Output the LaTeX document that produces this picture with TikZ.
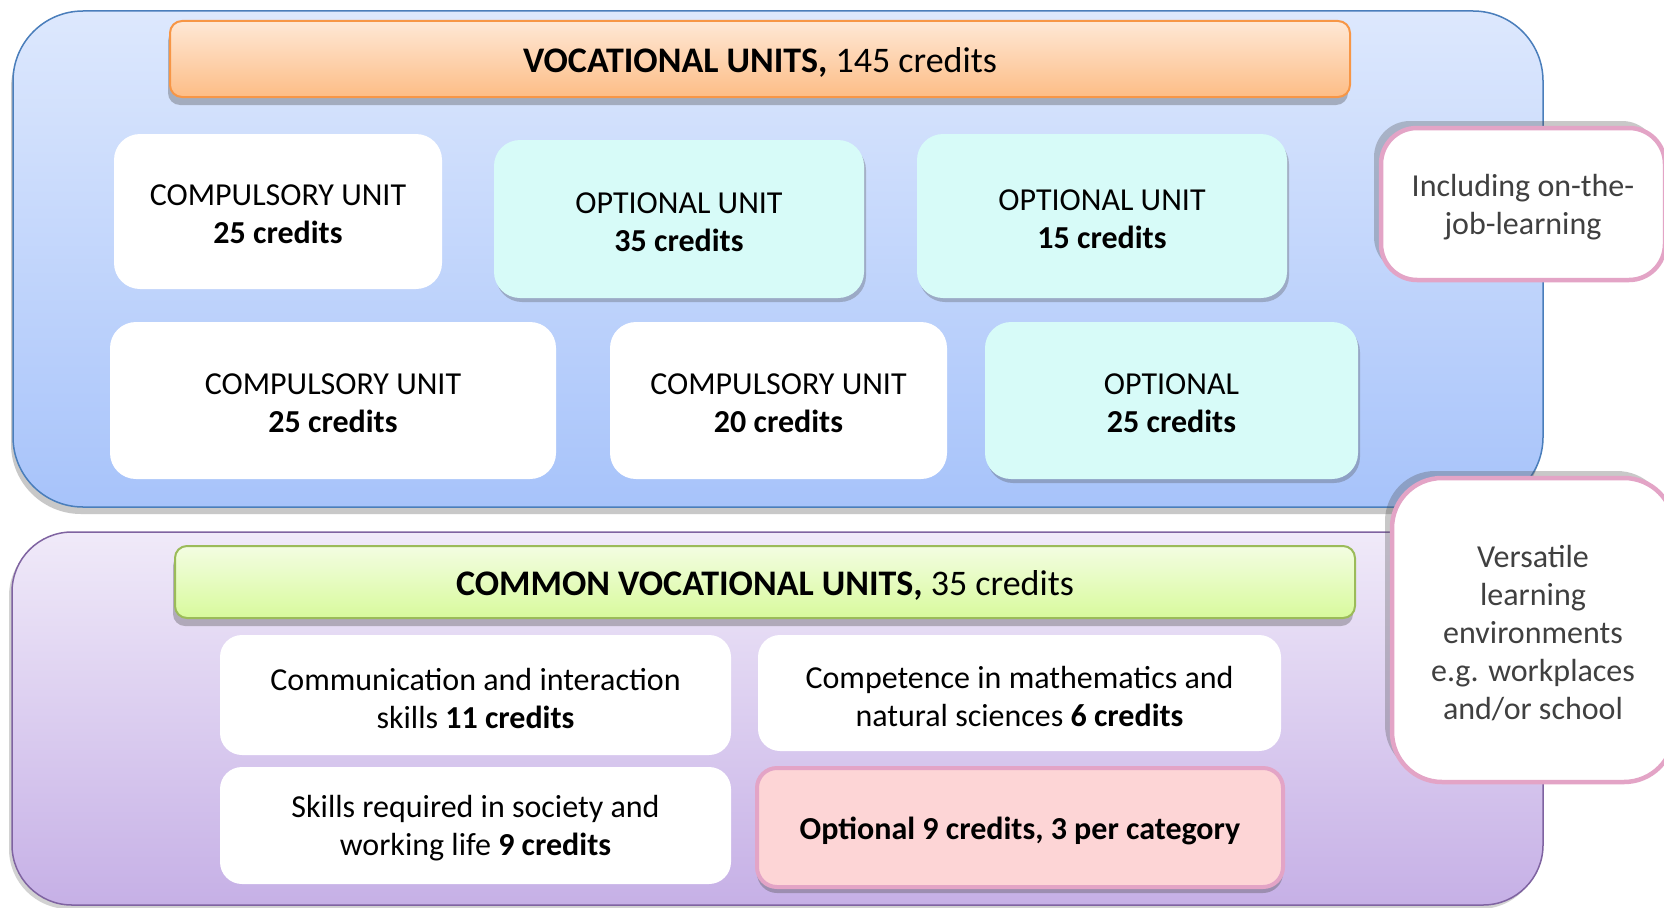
\documentclass[tikz,border=0pt]{standalone}
\usepackage{fontspec}
\setmainfont{Carlito}
\usetikzlibrary{shadows}
\definecolor{bluetop}{HTML}{DDE8FD}
\definecolor{bluebot}{HTML}{A7C3FA}
\definecolor{blueline}{HTML}{4A7EBB}
\definecolor{purtop}{HTML}{F0EAF9}
\definecolor{purbot}{HTML}{C6B0E6}
\definecolor{purline}{HTML}{7F63A1}
\definecolor{ortop}{HTML}{FEE8D6}
\definecolor{orbot}{HTML}{FDBD86}
\definecolor{orline}{HTML}{F79646}
\definecolor{grtop}{HTML}{F3FDE2}
\definecolor{grbot}{HTML}{D8FA9C}
\definecolor{grline}{HTML}{9BBB59}
\definecolor{cyanfill}{HTML}{D7FBF8}
\definecolor{pinkline}{HTML}{E3A4C6}
\definecolor{pinkfill}{HTML}{FDD5D6}
\definecolor{darktext}{HTML}{404040}
\begin{document}
\begin{tikzpicture}[x=1pt,y=-1pt,
  every node/.style={font=\fontsize{32}{38}\selectfont, align=center, inner sep=0pt},
  every label/.style={yshift=-3pt},
  bigbox/.style={draw, line width=1.5pt, rounded corners=#1},
  header/.style={draw, line width=2pt, rounded corners=12pt,
     drop shadow={shadow xshift=-2pt, shadow yshift=-8pt, opacity=0.35, fill=black!70}},
  hfont/.style={font=\fontsize{36}{40}\selectfont},
  whitebox/.style={fill=white, rounded corners=26pt},
  cyanbox/.style={fill=cyanfill, rounded corners=26pt,
     drop shadow={shadow xshift=2pt, shadow yshift=-4pt, opacity=0.3, fill=black!70}},
  sidebox/.style={fill=white, draw=pinkline, line width=4.5pt,
     drop shadow={shadow xshift=-7pt, shadow yshift=7pt, opacity=0.3, fill=black!70}},
  sidetext/.style={text=darktext},
  optbox/.style={fill=pinkfill, draw=pinkline, line width=4pt, rounded corners=20pt,
     drop shadow={shadow xshift=0pt, shadow yshift=-6pt, opacity=0.35, fill=black!70}}
]
\useasboundingbox[fill=white] (0,0) rectangle (1664,907);

% big containers
\node[bigbox=70pt, draw=blueline, top color=bluetop, bottom color=bluebot,
      minimum width=1530pt, minimum height=496pt,
      drop shadow={shadow xshift=-2pt, shadow yshift=-7pt, opacity=0.3, fill=black!70}]
      (voc) at (778,259) {};
\node[bigbox=60pt, draw=purline, top color=purtop, bottom color=purbot,
      minimum width=1531pt, minimum height=373pt,
      drop shadow={shadow xshift=-3pt, shadow yshift=-4pt, opacity=0.25, fill=black!70}]
      (com) at (777.5,718.5) {};

% headers
\node[header, draw=orline, top color=ortop, bottom color=orbot,
      minimum width=1180pt, minimum height=76pt,
      label={[hfont]center:{\textbf{VOCATIONAL UNITS,} 145 credits}}]
      (vochead) at (760,59) {};
\node[header, draw=grline, top color=grtop, bottom color=grbot,
      minimum width=1180pt, minimum height=72pt,
      label={[hfont]center:{\textbf{COMMON VOCATIONAL UNITS,} 35 credits}}]
      (comhead) at (765,582) {};

% vocational units
\node[whitebox, minimum width=328pt, minimum height=155pt,
      label={center:{COMPULSORY UNIT\\\textbf{25 credits}}}] (c1) at (278,211.5) {};
\node[cyanbox, minimum width=370pt, minimum height=158pt,
      label={center:{OPTIONAL UNIT\\\textbf{35 credits}}}] (o1) at (679,219) {};
\node[cyanbox, minimum width=370pt, minimum height=164pt,
      label={center:{OPTIONAL UNIT\\\textbf{15 credits}}}] (o2) at (1102,216) {};
\node[whitebox, minimum width=446pt, minimum height=157pt,
      label={center:{COMPULSORY UNIT\\\textbf{25 credits}}}] (c2) at (333,400.5) {};
\node[whitebox, minimum width=337pt, minimum height=157pt,
      label={center:{COMPULSORY UNIT\\\textbf{20 credits}}}] (c3) at (778.5,400.5) {};
\node[cyanbox, minimum width=373pt, minimum height=157pt,
      label={center:{OPTIONAL\\\textbf{25 credits}}}] (o3) at (1171.5,400.5) {};

% common vocational units
\node[whitebox, rounded corners=22pt, minimum width=511pt, minimum height=120pt,
      label={center:{Communication and interaction\\skills \textbf{11 credits}}}] (comm) at (475.5,695) {};
\node[whitebox, rounded corners=22pt, minimum width=523pt, minimum height=116pt,
      label={center:{Competence in mathematics and\\natural sciences \textbf{6 credits}}}] (math) at (1019.5,693) {};
\node[whitebox, rounded corners=22pt, minimum width=511pt, minimum height=117pt,
      label={center:{Skills required in society and\\working life \textbf{9 credits}}}] (soc) at (475.5,825.5) {};
\node[optbox, minimum width=526pt, minimum height=119pt,
      label={center:{\textbf{Optional 9 credits, 3 per category}}}] (opt9) at (1020,827.5) {};

% side notes
\node[sidebox, rounded corners=36pt, minimum width=284pt, minimum height=152pt,
      label={[sidetext]center:{Including on-the-\\job-learning}}] (ojl) at (1523,204) {};
\node[sidebox, rounded corners=50pt, minimum width=282pt, minimum height=304pt,
      label={[sidetext]center:{Versatile\\learning\\environments\\e.g. workplaces\\and/or school}}] (env) at (1533,630) {};
\end{tikzpicture}
\end{document}
